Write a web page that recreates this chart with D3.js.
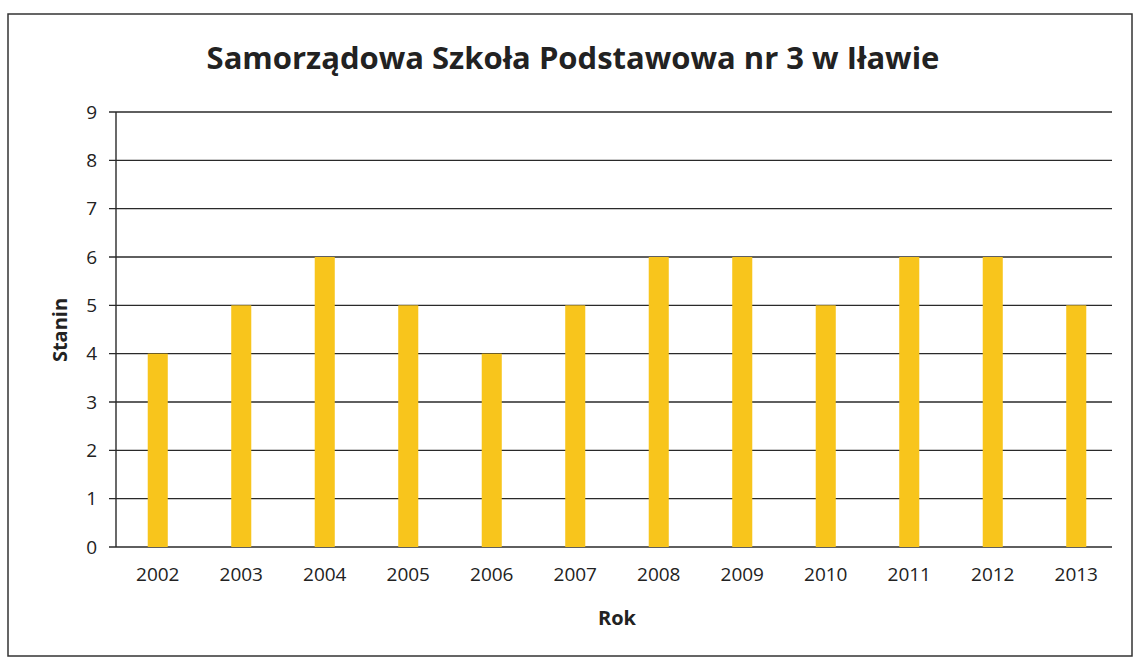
<!DOCTYPE html>
<html>
<head>
<meta charset="utf-8">
<script src="https://cdn.jsdelivr.net/npm/d3@7"></script>
<style>
  body { margin: 0; background: #fff; }
  text { font-family: "Open Sans", "DejaVu Sans", sans-serif; fill: #222; }
</style>
</head>
<body>
<svg id="chart" width="1135" height="661"></svg>
<script>
// data
var years = ['2002','2003','2004','2005','2006','2007','2008','2009','2010','2011','2012','2013'];
var stanin = [4, 5, 6, 5, 4, 5, 6, 6, 5, 6, 6, 5];
var yTicks = [0, 1, 2, 3, 4, 5, 6, 7, 8, 9];

var svg = d3.select('#chart');

// outer frame of the chart
svg.append('rect')
  .attr('x', 8).attr('y', 14)
  .attr('width', 1124).attr('height', 642)
  .attr('fill', 'none')
  .attr('stroke', '#333')
  .attr('stroke-width', 1.5);

var plotLeft = 116, plotRight = 1118, plotTop = 112, plotBottom = 547;

var x = d3.scaleBand()
  .domain(years)
  .range([plotLeft, plotRight])
  .paddingInner(0.76)
  .paddingOuter(0.38);

var y = d3.scaleLinear()
  .domain([0, 9])
  .range([plotBottom, plotTop]);

// gridlines
svg.append('g')
  .selectAll('line')
  .data(yTicks)
  .enter()
  .append('line')
  .attr('x1', plotLeft - 7)
  .attr('x2', plotRight - 6)
  .attr('y1', function(d) { return y(d); })
  .attr('y2', function(d) { return y(d); })
  .attr('stroke', '#2a2a2a')
  .attr('stroke-width', 1.4);

// bars
svg.append('g')
  .selectAll('rect')
  .data(stanin)
  .enter()
  .append('rect')
  .attr('x', function(d, i) { return x(years[i]); })
  .attr('y', function(d) { return y(d); })
  .attr('width', x.bandwidth())
  .attr('height', function(d) { return y(0) - y(d); })
  .attr('fill', '#F8C51C');

// y axis line
svg.append('line')
  .attr('x1', plotLeft).attr('x2', plotLeft)
  .attr('y1', plotTop).attr('y2', plotBottom)
  .attr('stroke', '#2a2a2a')
  .attr('stroke-width', 1.4);

// y labels
var yAxis = d3.axisLeft(y).tickValues(yTicks).tickSize(0).tickPadding(19);
var gy = svg.append('g')
  .attr('transform', 'translate(' + plotLeft + ',0)')
  .call(yAxis);
gy.select('.domain').remove();
gy.selectAll('text')
  .style('font-size', '19px')
  .style('font-family', '"Open Sans", sans-serif')
  .attr('fill', '#222');

// x labels
var xAxis = d3.axisBottom(x).tickSize(0).tickPadding(21);
var gx = svg.append('g')
  .attr('transform', 'translate(0,' + plotBottom + ')')
  .call(xAxis);
gx.select('.domain').remove();
gx.selectAll('text')
  .style('font-size', '19px')
  .style('font-family', '"Open Sans", sans-serif')
  .attr('fill', '#222');

// titles
svg.append('text')
  .attr('x', 573).attr('y', 69)
  .attr('text-anchor', 'middle')
  .style('font-size', '31px')
  .style('font-weight', 'bold')
  .text('Samorządowa Szkoła Podstawowa nr 3 w Iławie');

svg.append('text')
  .attr('x', 617).attr('y', 625)
  .attr('text-anchor', 'middle')
  .style('font-size', '20px')
  .style('font-weight', 'bold')
  .text('Rok');

svg.append('text')
  .attr('transform', 'translate(67,330) rotate(-90)')
  .attr('text-anchor', 'middle')
  .style('font-size', '20px')
  .style('font-weight', 'bold')
  .text('Stanin');
</script>
</body>
</html>
